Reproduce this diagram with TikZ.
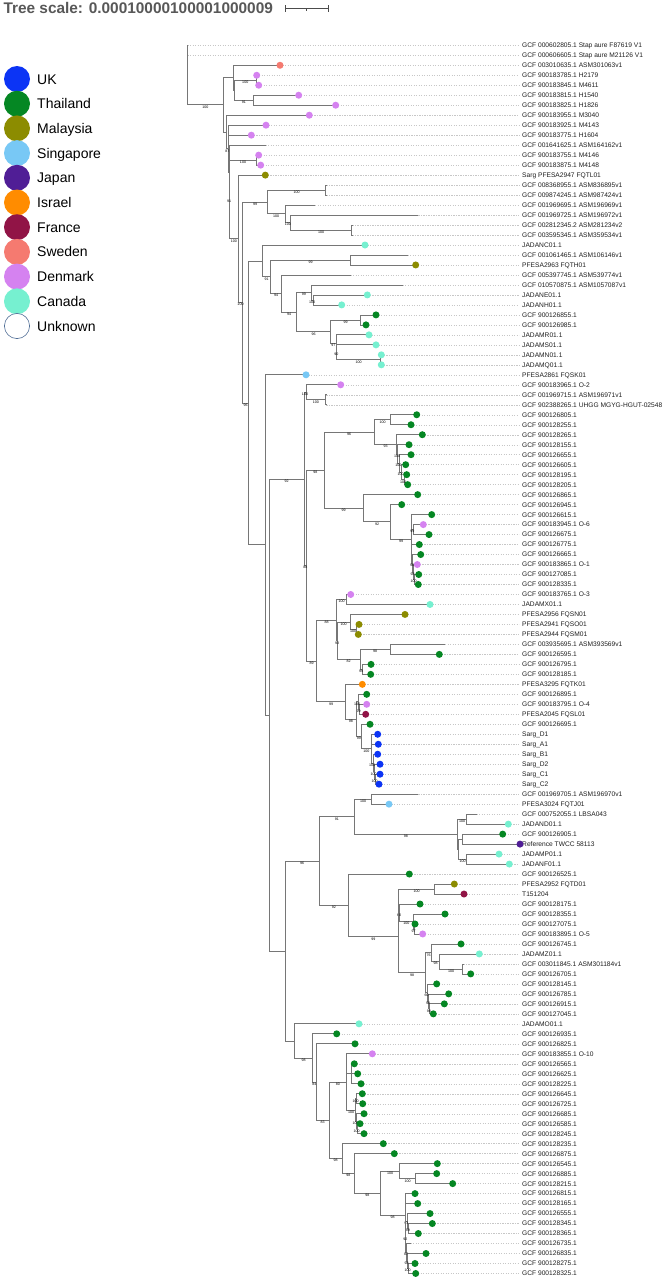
\documentclass[tikz,border=0pt]{standalone}
\usepackage{fontspec}
\setmainfont{Liberation Sans}
\usetikzlibrary{calc}
\definecolor{cUK}{RGB}{12,52,245}
\definecolor{cTH}{RGB}{5,135,35}
\definecolor{cMY}{RGB}{140,140,0}
\definecolor{cSG}{RGB}{120,200,245}
\definecolor{cJP}{RGB}{80,30,150}
\definecolor{cIL}{RGB}{255,140,0}
\definecolor{cFR}{RGB}{145,20,70}
\definecolor{cSE}{RGB}{245,122,112}
\definecolor{cDK}{RGB}{213,130,240}
\definecolor{cCA}{RGB}{118,240,208}
\definecolor{cUN}{RGB}{80,110,150}
\definecolor{brc}{RGB}{118,118,118}
\definecolor{titlec}{RGB}{88,88,88}
\tikzset{
 br/.style={draw=brc, line width=0.75pt},
 leader/.style={draw=black!22, line width=0.4pt, dash pattern=on 1.2pt off 1.3pt},
 leaflab/.style={anchor=west, inner sep=0pt, text height=4.8pt, text depth=0pt, text=black!88, font=\fontsize{6.65}{7}\selectfont},
 bs/.style={font=\fontsize{3.6}{4}\selectfont, inner sep=0.2pt, anchor=north, yshift=-0.3pt},
 legtxt/.style={anchor=west, inner sep=0pt, text height=10pt, text depth=0pt, font=\fontsize{14}{16}\selectfont},
}
\newcommand\leaf[3]{\coordinate (L#1) at (#2, {45.3+(#1-1)*9.985});
 \node[leaflab] (T#1) at (522, {45.3+(#1-1)*9.985}) {#3};
 \draw[leader] (L#1) -- ([xshift=-3pt]T#1.west);}
\newcommand\inode[4]{\path let \p1=(#3), \p2=(#4) in (#2pt, {0.5*\y1+0.5*\y2}) coordinate (#1);}
\newcommand\edge[2]{\draw[br] (#1) |- (#2);}
\newcommand\edgel[3]{\draw[br] (#1) |- (#2) node[bs, pos=0.75] {#3};}
\begin{document}
\begin{tikzpicture}[x=1pt, y=-1pt]
\useasboundingbox (0,0) rectangle (664,1280);
\fill[white] (0,0) rectangle (664,1280);
% title and scale
\node[anchor=base west, inner sep=0pt, text=titlec, font=\bfseries\fontsize{15.4}{17}\selectfont] (title) at (3.3,13.5) {Tree scale: 0.00010000100001000009};
\draw[black!70, line width=0.7pt] (285,8.3) -- (328.3,8.3) (285,5) -- (285,11.7) (328.3,5) -- (328.3,11.7) (306.6,8.3) -- (306.6,10.5);
% legend
\foreach \t/\c [count=\k from 0] in {UK/cUK, Thailand/cTH, Malaysia/cMY, Singapore/cSG, Japan/cJP, Israel/cIL, France/cFR, Sweden/cSE, Denmark/cDK, Canada/cCA}{
 \fill[\c] (17,{79+\k*24.7}) circle[radius=13pt];
 \node[legtxt] (leg\k) at (37,{79+\k*24.7}) {\t};
}
\draw[cUN, fill=white, line width=0.6pt] (17,326) circle[radius=12.6pt];
\node[legtxt] (leg10) at (37,326) {Unknown};
% leaves
\leaf{1}{187.6}{GCF 000602805.1 Stap aure F87619 V1}
\leaf{2}{187.6}{GCF 000606605.1 Stap aure M21126 V1}
\leaf{3}{280}{GCF 003010635.1 ASM301063v1}
\leaf{4}{256.7}{GCF 900183785.1 H2179}
\leaf{5}{258.7}{GCF 900183845.1 M4611}
\leaf{6}{298.7}{GCF 900183815.1 H1540}
\leaf{7}{335.7}{GCF 900183825.1 H1826}
\leaf{8}{309.3}{GCF 900183955.1 M3040}
\leaf{9}{266}{GCF 900183925.1 M4143}
\leaf{10}{251.3}{GCF 900183775.1 H1604}
\leaf{11}{265.7}{GCF 001641625.1 ASM164162v1}
\leaf{12}{258.7}{GCF 900183755.1 M4146}
\leaf{13}{260.7}{GCF 900183875.1 M4148}
\leaf{14}{265.3}{Sarg PFESA2947 FQTL01}
\leaf{15}{326.3}{GCF 008368955.1 ASM836895v1}
\leaf{16}{326.3}{GCF 009874245.1 ASM987424v1}
\leaf{17}{315}{GCF 001969695.1 ASM196969v1}
\leaf{18}{418.3}{GCF 001969725.1 ASM196972v1}
\leaf{19}{352.3}{GCF 002812345.2 ASM281234v2}
\leaf{20}{352.3}{GCF 003595345.1 ASM359534v1}
\leaf{21}{365}{JADANC01.1}
\leaf{22}{407.7}{GCF 001061465.1 ASM106146v1}
\leaf{23}{415.7}{PFESA2963 FQTH01}
\leaf{24}{350.7}{GCF 005397745.1 ASM539774v1}
\leaf{25}{402.7}{GCF 010570875.1 ASM1057087v1}
\leaf{26}{367.3}{JADANE01.1}
\leaf{27}{341.7}{JADANH01.1}
\leaf{28}{376}{GCF 900126855.1}
\leaf{29}{366}{GCF 900126985.1}
\leaf{30}{369}{JADAMR01.1}
\leaf{31}{376}{JADAMS01.1}
\leaf{32}{381.3}{JADAMN01.1}
\leaf{33}{381.3}{JADAMQ01.1}
\leaf{34}{306}{PFESA2861 FQSK01}
\leaf{35}{340.7}{GCF 900183965.1 O-2}
\leaf{36}{326.3}{GCF 001969715.1 ASM196971v1}
\leaf{37}{326.3}{GCF 902388265.1 UHGG MGYG-HGUT-02548}
\leaf{38}{416.7}{GCF 900126805.1}
\leaf{39}{411}{GCF 900128255.1}
\leaf{40}{422.3}{GCF 900128265.1}
\leaf{41}{409}{GCF 900128155.1}
\leaf{42}{411}{GCF 900126655.1}
\leaf{43}{405.7}{GCF 900126605.1}
\leaf{44}{406.7}{GCF 900128195.1}
\leaf{45}{407.7}{GCF 900128205.1}
\leaf{46}{417.7}{GCF 900126865.1}
\leaf{47}{401.7}{GCF 900126945.1}
\leaf{48}{431.7}{GCF 900126615.1}
\leaf{49}{423.3}{GCF 900183945.1 O-6}
\leaf{50}{429}{GCF 900126675.1}
\leaf{51}{419.3}{GCF 900126775.1}
\leaf{52}{420.7}{GCF 900126665.1}
\leaf{53}{417.3}{GCF 900183865.1 O-1}
\leaf{54}{418.7}{GCF 900127085.1}
\leaf{55}{418.3}{GCF 900128335.1}
\leaf{56}{350.7}{GCF 900183765.1 O-3}
\leaf{57}{430}{JADAMX01.1}
\leaf{58}{405}{PFESA2956 FQSN01}
\leaf{59}{359}{PFESA2941 FQSO01}
\leaf{60}{358.3}{PFESA2944 FQSM01}
\leaf{61}{445}{GCF 003935695.1 ASM393569v1}
\leaf{62}{439.3}{GCF 900126595.1}
\leaf{63}{371}{GCF 900126795.1}
\leaf{64}{370.7}{GCF 900128185.1}
\leaf{65}{362.3}{PFESA3295 FQTK01}
\leaf{66}{366.7}{GCF 900126895.1}
\leaf{67}{366.7}{GCF 900183795.1 O-4}
\leaf{68}{365.7}{PFESA2045 FQSL01}
\leaf{69}{370}{GCF 900126695.1}
\leaf{70}{377.7}{Sarg\_D1}
\leaf{71}{378.3}{Sarg\_A1}
\leaf{72}{377.7}{Sarg\_B1}
\leaf{73}{380}{Sarg\_D2}
\leaf{74}{380}{Sarg\_C1}
\leaf{75}{379}{Sarg\_C2}
\leaf{76}{418.3}{GCF 001969705.1 ASM196970v1}
\leaf{77}{389}{PFESA3024 FQTJ01}
\leaf{78}{476.7}{GCF 000752055.1 LBSA043}
\leaf{79}{508.3}{JADAND01.1}
\leaf{80}{502.7}{GCF 900126905.1}
\leaf{81}{520}{Reference TWCC 58113}
\leaf{82}{499}{JADAMP01.1}
\leaf{83}{509.3}{JADANF01.1}
\leaf{84}{409.3}{GCF 900126525.1}
\leaf{85}{454.3}{PFESA2952 FQTD01}
\leaf{86}{464}{T151204}
\leaf{87}{420}{GCF 900128175.1}
\leaf{88}{445}{GCF 900128355.1}
\leaf{89}{415}{GCF 900127075.1}
\leaf{90}{422.7}{GCF 900183895.1 O-5}
\leaf{91}{461}{GCF 900126745.1}
\leaf{92}{479.3}{JADAMZ01.1}
\leaf{93}{463.3}{GCF 003011845.1 ASM301184v1}
\leaf{94}{470.7}{GCF 900126705.1}
\leaf{95}{436.7}{GCF 900128145.1}
\leaf{96}{448.7}{GCF 900126785.1}
\leaf{97}{444.3}{GCF 900126915.1}
\leaf{98}{433.3}{GCF 900127045.1}
\leaf{99}{359}{JADAMO01.1}
\leaf{100}{336.7}{GCF 900126935.1}
\leaf{101}{355}{GCF 900126825.1}
\leaf{102}{372.3}{GCF 900183855.1 O-10}
\leaf{103}{354.3}{GCF 900126565.1}
\leaf{104}{357.7}{GCF 900126625.1}
\leaf{105}{361}{GCF 900128225.1}
\leaf{106}{362.3}{GCF 900126645.1}
\leaf{107}{362.7}{GCF 900126725.1}
\leaf{108}{364}{GCF 900126685.1}
\leaf{109}{360}{GCF 900126585.1}
\leaf{110}{364}{GCF 900128245.1}
\leaf{111}{383.3}{GCF 900128235.1}
\leaf{112}{394.3}{GCF 900126875.1}
\leaf{113}{437.3}{GCF 900126545.1}
\leaf{114}{436.7}{GCF 900126885.1}
\leaf{115}{452.7}{GCF 900128215.1}
\leaf{116}{415}{GCF 900126815.1}
\leaf{117}{417.7}{GCF 900128165.1}
\leaf{118}{430}{GCF 900126555.1}
\leaf{119}{432.3}{GCF 900128345.1}
\leaf{120}{418.3}{GCF 900128365.1}
\leaf{121}{410.7}{GCF 900126735.1}
\leaf{122}{426}{GCF 900126835.1}
\leaf{123}{415}{GCF 900128275.1}
\leaf{124}{415.7}{GCF 900128325.1}
% internal nodes and branches
\inode{O}{187.4}{L1}{L2} \edge{O}{L1} \edge{O}{L2}
\inode{N45}{256}{L4}{L5} \edge{N45}{L4} \edge{N45}{L5}
\inode{N67}{253.3}{L6}{L7} \edge{N67}{L6} \edge{N67}{L7}
\inode{B}{234.5}{N45}{N67} \edgel{B}{N45}{100} \edgel{B}{N67}{91}
\inode{A}{233.3}{L3}{B} \edge{A}{L3} \edge{A}{B}
\inode{N1213}{256.7}{L12}{L13} \edge{N1213}{L12} \edge{N1213}{L13}
\inode{N1516}{325.7}{L15}{L16} \edge{N1516}{L15} \edge{N1516}{L16}
\inode{N1920}{351.7}{L19}{L20} \edge{N1920}{L19} \edge{N1920}{L20}
\inode{P3}{290.7}{L18}{N1920} \edge{P3}{L18} \edgel{P3}{N1920}{100}
\inode{P2}{285}{L17}{P3} \edge{P2}{L17} \edgel{P2}{P3}{100}
\inode{P1}{267.3}{N1516}{P2} \edgel{P1}{N1516}{100} \edgel{P1}{P2}{100}
\inode{N2223}{350.7}{L22}{L23} \edge{N2223}{L22} \edge{N2223}{L23}
\inode{N2627}{313.3}{L26}{L27} \edge{N2627}{L26} \edge{N2627}{L27}
\inode{S4}{311}{L25}{N2627} \edge{S4}{L25} \edgel{S4}{N2627}{100}
\inode{N2829}{360.7}{L28}{L29} \edge{N2829}{L28} \edge{N2829}{L29}
\inode{N3233}{380.7}{L32}{L33} \edge{N3233}{L32} \edge{N3233}{L33}
\inode{S7}{336.7}{L31}{N3233} \edge{S7}{L31} \edgel{S7}{N3233}{100}
\inode{S6}{336}{L30}{S7} \edge{S6}{L30} \edgel{S6}{S7}{90}
\inode{S5}{330.7}{N2829}{S6} \edgel{S5}{N2829}{99} \edgel{S5}{S6}{97}
\inode{S3}{296.7}{S4}{S5} \edgel{S3}{S4}{99} \edgel{S3}{S5}{96}
\inode{S2}{281.7}{L24}{S3} \edge{S2}{L24} \edgel{S2}{S3}{94}
\inode{S1}{270.7}{N2223}{S2} \edgel{S1}{N2223}{99} \edgel{S1}{S2}{94}
\inode{R1}{262.7}{L21}{S1} \edge{R1}{L21} \edgel{R1}{S1}{91}
\inode{N3637}{325.7}{L36}{L37} \edge{N3637}{L36} \edge{N3637}{L37}
\inode{U1}{306}{L35}{N3637} \edge{U1}{L35} \edgel{U1}{N3637}{100}
\inode{N3839}{390.7}{L38}{L39} \edge{N3839}{L38} \edge{N3839}{L39}
\inode{AA6}{404.3}{L44}{L45} \edge{AA6}{L44} \edge{AA6}{L45}
\inode{AA5}{401.7}{L43}{AA6} \edge{AA5}{L43} \edgel{AA5}{AA6}{100}
\inode{AA4}{399.3}{L42}{AA5} \edge{AA4}{L42} \edgel{AA4}{AA5}{100}
\inode{AA3}{397.3}{L41}{AA4} \edge{AA3}{L41} \edgel{AA3}{AA4}{100}
\inode{AA2}{396.7}{L40}{AA3} \edge{AA2}{L40} \edgel{AA2}{AA3}{100}
\inode{AA1}{374.3}{N3839}{AA2} \edgel{AA1}{N3839}{100} \edgel{AA1}{AA2}{93}
\inode{AB4}{413}{L49}{L50} \edge{AB4}{L49} \edge{AB4}{L50}
\inode{AB8}{414}{L54}{L55} \edge{AB8}{L54} \edge{AB8}{L55}
\inode{AB7}{413}{L53}{AB8} \edge{AB7}{L53} \edgel{AB7}{AB8}{100}
\inode{AB6}{412.3}{L52}{AB7} \edge{AB6}{L52} \edgel{AB6}{AB7}{98}
\inode{AB3}{411.7}{L48}{AB6} \edge{AB3}{L48} \edgel{AB3}{AB4}{99} \edge{AB3}{L51} \edgel{AB3}{AB6}{96}
\inode{AB2}{390.7}{L47}{AB3} \edge{AB2}{L47} \edgel{AB2}{AB3}{99}
\inode{AB1}{363.3}{L46}{AB2} \edge{AB1}{L46} \edgel{AB1}{AB2}{92}
\inode{V1}{324}{AA1}{AB1} \edgel{V1}{AA1}{96} \edgel{V1}{AB1}{99}
\inode{Y1}{346.7}{L56}{L57} \edge{Y1}{L56} \edge{Y1}{L57}
\inode{N5960}{356}{L59}{L60} \edge{N5960}{L59} \edge{N5960}{L60}
\inode{Z1}{350}{L58}{N5960} \edge{Z1}{L58} \edgel{Z1}{N5960}{100}
\inode{Z3}{390}{L61}{L62} \edge{Z3}{L61} \edge{Z3}{L62}
\inode{Z4}{362}{L63}{L64} \edge{Z4}{L63} \edge{Z4}{L64}
\inode{Z2}{360}{Z3}{Z4} \edgel{Z2}{Z3}{98} \edgel{Z2}{Z4}{99}
\inode{Y2}{337.3}{Z1}{Z2} \edgel{Y2}{Z1}{100} \edgel{Y2}{Z2}{82}
\inode{X1}{336.7}{Y1}{Y2} \edgel{X1}{Y1}{100} \edgel{X1}{Y2}{93}
\inode{X4b}{359.3}{L67}{L68} \edge{X4b}{L67} \edge{X4b}{L68}
\inode{X4}{358}{L66}{X4b} \edge{X4}{L66} \edgel{X4}{X4b}{99}
\inode{X9}{375}{L74}{L75} \edge{X9}{L74} \edge{X9}{L75}
\inode{X8}{374}{L73}{X9} \edge{X8}{L73} \edgel{X8}{X9}{100}
\inode{X7}{373}{L72}{X8} \edge{X7}{L72} \edgel{X7}{X8}{100}
\inode{X6}{371}{L70}{X7} \edge{X6}{L70} \edge{X6}{L71} \edgel{X6}{X7}{100}
\inode{X5}{361.7}{L69}{X6} \edge{X5}{L69} \edgel{X5}{X6}{100}
\inode{X3}{356}{X4}{X5} \edgel{X3}{X4}{100} \edgel{X3}{X5}{99}
\inode{X2}{345.7}{L65}{X3} \edge{X2}{L65} \edgel{X2}{X3}{98}
\inode{W}{316.7}{X1}{X2} \edgel{W}{X1}{88} \edgel{W}{X2}{99}
\inode{U2}{306.7}{V1}{W} \edgel{U2}{V1}{98} \edgel{U2}{W}{89}
\inode{T1}{304}{U1}{U2} \edgel{T1}{U1}{100} \edgel{T1}{U2}{88}
\inode{BD}{371.7}{L76}{L77} \edge{BD}{L76} \edge{BD}{L77}
\inode{BF}{466.7}{L78}{L79} \edge{BF}{L78} \edge{BF}{L79}
\inode{N8081}{462.7}{L80}{L81} \edge{N8081}{L80} \edge{N8081}{L81}
\inode{BH}{466.7}{L82}{L83} \edge{BH}{L82} \edge{BH}{L83}
\inode{BI}{458.3}{N8081}{BH} \edge{BI}{N8081} \edgel{BI}{BH}{100}
\inode{BE}{457.3}{BF}{BI} \edgel{BE}{BF}{100} \edge{BE}{BI}
\inode{BB}{354.3}{BD}{BE} \edgel{BB}{BD}{100} \edgel{BB}{BE}{98}
\inode{BK}{434.3}{L85}{L86} \edge{BK}{L85} \edge{BK}{L86}
\inode{BO}{414}{L89}{L90} \edge{BO}{L89} \edge{BO}{L90}
\inode{BM}{413.3}{L88}{BO} \edge{BM}{L88} \edgel{BM}{BO}{97}
\inode{BN}{399.5}{L87}{BM} \edge{BN}{L87} \edgel{BN}{BM}{100}
\inode{BP}{398.8}{BK}{BN} \edgel{BP}{BK}{100} \edgel{BP}{BN}{60}
\inode{BS}{462.7}{L93}{L94} \edge{BS}{L93} \edge{BS}{L94}
\inode{BR}{439.3}{L92}{BS} \edge{BR}{L92} \edgel{BR}{BS}{100}
\inode{BQ}{431.7}{L91}{BR} \edge{BQ}{L91} \edgel{BQ}{BR}{98}
\inode{BV}{429.3}{L97}{L98} \edge{BV}{L97} \edge{BV}{L98}
\inode{BU}{428.3}{L96}{BV} \edge{BU}{L96} \edgel{BU}{BV}{98}
\inode{BT}{427.7}{L95}{BU} \edge{BT}{L95} \edgel{BT}{BU}{98}
\inode{BL}{425.7}{BQ}{BT} \edgel{BL}{BQ}{76} \edgel{BL}{BT}{60}
\inode{BJ}{398.3}{BP}{BL} \edge{BJ}{BP} \edgel{BJ}{BL}{98}
\inode{BC}{348.3}{L84}{BJ} \edge{BC}{L84} \edgel{BC}{BJ}{99}
\inode{BA}{319.3}{BB}{BC} \edgel{BA}{BB}{91} \edgel{BA}{BC}{92}
\inode{CJ}{357}{L109}{L110} \edge{CJ}{L109} \edge{CJ}{L110}
\inode{CI}{356}{L108}{CJ} \edge{CI}{L108} \edgel{CI}{CJ}{100}
\inode{CG}{356}{L106}{L107} \edge{CG}{L106} \edge{CG}{L107}
\inode{CF}{355.3}{CG}{CI} \edgel{CF}{CG}{100} \edgel{CF}{CI}{100}
\inode{CK}{351.7}{L103}{L105} \edge{CK}{L103} \edge{CK}{L104} \edge{CK}{L105}
\inode{CC}{346.7}{L102}{CF} \edge{CC}{L102} \edge{CC}{CK} \edgel{CC}{CF}{100}
\inode{CP}{415.7}{L114}{L115} \edge{CP}{L114} \edge{CP}{L115}
\inode{CN}{399.7}{L113}{CP} \edge{CN}{L113} \edgel{CN}{CP}{100}
\inode{CT}{408.7}{L119}{L120} \edge{CT}{L119} \edge{CT}{L120}
\inode{CR}{407}{L118}{CT} \edge{CR}{L118} \edgel{CR}{CT}{99}
\inode{CV}{408}{L123}{L124} \edge{CV}{L123} \edge{CV}{L124}
\inode{CU}{407}{L122}{CV} \edge{CU}{L122} \edgel{CU}{CV}{100}
\inode{CS}{406.3}{L121}{CU} \edge{CS}{L121} \edgel{CS}{CU}{98}
\inode{CQ}{405.7}{CR}{CS} \edgel{CQ}{CR}{93} \edgel{CQ}{CS}{87}
\inode{CO}{405}{L116}{CQ} \edge{CO}{L116} \edge{CO}{L117} \edgel{CO}{CQ}{92}
\inode{CM}{380.3}{CN}{CO} \edgel{CM}{CN}{100} \edgel{CM}{CO}{98}
\inode{CL}{354.3}{L112}{CM} \edge{CL}{L112} \edgel{CL}{CM}{98}
\inode{CD}{342.3}{L111}{CL} \edge{CD}{L111} \edgel{CD}{CL}{98}
\inode{CB}{329}{CC}{CD} \edgel{CB}{CC}{80} \edgel{CB}{CD}{98}
\inode{BY}{316}{L101}{CB} \edge{BY}{L101} \edgel{BY}{CB}{83}
\inode{BX}{312.7}{L100}{BY} \edge{BX}{L100} \edgel{BX}{BY}{84}
\inode{BW}{294.3}{L99}{BX} \edge{BW}{L99} \edgel{BW}{BX}{98}
\inode{T2}{285}{BA}{BW} \edgel{T2}{BA}{96} \edge{T2}{BW}
\inode{R3}{269.3}{T1}{T2} \edgel{R3}{T1}{92} \edge{R3}{T2}
\inode{R2}{265}{L34}{R3} \edge{R2}{L34} \edge{R2}{R3}
\inode{Q}{248.3}{R1}{R2} \edge{Q}{R1} \edge{Q}{R2}
\inode{F}{242.7}{P1}{Q} \edgel{F}{P1}{99} \edgel{F}{Q}{96}
\inode{E}{238.3}{L14}{F} \edge{E}{L14} \edgel{E}{F}{100}
\inode{M}{229.3}{N1213}{E} \edgel{M}{N1213}{100} \edgel{M}{E}{100}
\inode{G}{229}{L11}{M} \edge{G}{L11} \edgel{G}{M}{91}
\inode{H}{228.7}{L9}{G} \edge{H}{L9} \edge{H}{L10} \edge{H}{G}
\inode{C}{226}{L8}{H} \edge{C}{L8} \edgel{C}{H}{87}
\inode{I}{223.3}{A}{C} \edge{I}{A} \edge{I}{C}
\inode{R}{187.3}{O}{I} \edge{R}{O} \edgel{R}{I}{100}
% tip dots
\def\dot#1#2{\foreach \i in {#2} \fill[#1] (L\i) circle[radius=3.5pt];}
\dot{cSE}{3}
\dot{cDK}{4,5,6,7,8,9,10,12,13,35,49,53,56,67,90,102}
\dot{cMY}{14,23,58,59,60,85}
\dot{cCA}{21,26,27,30,31,32,33,57,79,82,83,92,99}
\dot{cTH}{28,29,38,39,40,41,42,43,44,45,46,47,48,50,51,52,54,55,62,63,64,66,69,80,84,87,88,89,91,94,95,96,97,98,100,101,103,104,105,106,107,108,109,110,111,112,113,114,115,116,117,118,119,120,122,123,124}
\dot{cSG}{34,77}
\dot{cIL}{65}
\dot{cFR}{68,86}
\dot{cUK}{70,71,72,73,74,75}
\dot{cJP}{81}
\end{tikzpicture}
\end{document}
